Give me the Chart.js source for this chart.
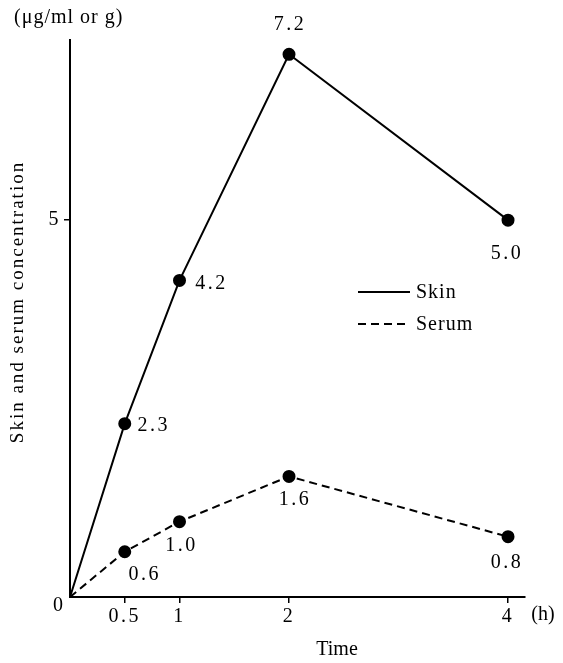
<!DOCTYPE html>
<html>
<head>
<meta charset="utf-8">
<script src="https://cdn.jsdelivr.net/npm/chart.js@4/dist/chart.umd.min.js"></script>
<style>
  html, body { margin: 0; padding: 0; background: #fff; }
</style>
</head>
<body>
<canvas id="concChart" width="563" height="663"></canvas>
<script>
const times = [0, 0.5, 1, 2, 4];
const skinValues = [0, 2.3, 4.2, 7.2, 5.0];
const serumValues = [0, 0.6, 1.0, 1.6, 0.8];
const xTickValues = [0.5, 1, 2, 4];
const yTickValues = [5];
const seriesNames = ['Skin', 'Serum'];
const unitLabel = '(\u03bcg/ml or g)';
const yTitle = 'Skin and serum concentration';
const xTitle = 'Time';
const xUnit = '(h)';

// where each value label sits relative to its point (px)
const skinLabelOffsets = [null, [29, 2], [32, 3], [1, -30], [-1, 34]];
const serumLabelOffsets = [null, [20, 23], [2, 24], [6, 23], [-1, 26]];

const FONT = 'Liberation Serif';
const INK = '#000';

const toPoints = vals => vals.map((v, i) => ({ x: times[i], y: v }));
const radii = times.map(t => (t === 0 ? 0 : 5.5));

const labelsPlugin = {
  id: 'figText',
  beforeDraw(chart) {
    // spaced-out digits like the typeset original (used by the tick labels)
    chart.ctx.letterSpacing = '2.5px';
  },
  afterDatasetsDraw(chart) {
    const ctx = chart.ctx;
    const offsets = [skinLabelOffsets, serumLabelOffsets];
    ctx.save();
    ctx.fillStyle = INK;
    ctx.font = '20px "' + FONT + '"';
    ctx.letterSpacing = '2.5px';
    ctx.textAlign = 'center';
    ctx.textBaseline = 'middle';
    chart.data.datasets.forEach((ds, di) => {
      const meta = chart.getDatasetMeta(di);
      meta.data.forEach((pt, i) => {
        const off = offsets[di][i];
        if (!off) return;
        ctx.fillText(ds.data[i].y.toFixed(1), pt.x + off[0], pt.y + off[1]);
      });
    });
    ctx.restore();
  },
  afterDraw(chart) {
    const ctx = chart.ctx;
    const area = chart.chartArea;
    ctx.save();
    ctx.fillStyle = INK;
    ctx.strokeStyle = INK;
    ctx.font = '20px "' + FONT + '"';
    ctx.textBaseline = 'middle';

    // unit label at top
    ctx.textAlign = 'left';
    ctx.letterSpacing = '1px';
    ctx.fillText(unitLabel, 14, 18);

    // origin 0, (h) and the x title
    ctx.textAlign = 'center';
    ctx.letterSpacing = '0px';
    ctx.fillText('0', area.left - 12, area.bottom + 9);
    ctx.fillText(xUnit, area.right + 18, area.bottom + 18);
    ctx.fillText(xTitle, 337, 650);

    // rotated y title
    ctx.save();
    ctx.font = '19px "' + FONT + '"';
    ctx.translate(18, 302);
    ctx.rotate(-Math.PI / 2);
    ctx.letterSpacing = '2px';
    ctx.fillText(yTitle, 0, 0);
    ctx.restore();

    // legend
    ctx.letterSpacing = '1px';
    chart.data.datasets.forEach((ds, di) => {
      const y = 292 + di * 32;
      ctx.lineWidth = 2;
      ctx.setLineDash(ds.borderDash || []);
      ctx.beginPath();
      ctx.moveTo(358, y);
      ctx.lineTo(410, y);
      ctx.stroke();
      ctx.setLineDash([]);
      ctx.textAlign = 'left';
      ctx.fillText(ds.label, 416, y + 1);
    });
    ctx.restore();
  }
};

const ctx = document.getElementById('concChart').getContext('2d');

new Chart(ctx, {
  type: 'line',
  data: {
    datasets: [
      {
        label: seriesNames[0],
        data: toPoints(skinValues),
        borderColor: INK,
        backgroundColor: INK,
        borderWidth: 2,
        pointRadius: radii,
        fill: false,
        tension: 0
      },
      {
        label: seriesNames[1],
        data: toPoints(serumValues),
        borderColor: INK,
        backgroundColor: INK,
        borderWidth: 2,
        borderDash: [8, 5],
        pointRadius: radii,
        fill: false,
        tension: 0
      }
    ]
  },
  options: {
    responsive: false,
    animation: false,
    devicePixelRatio: 1,
    layout: { padding: { top: 40, right: 38, left: 0, bottom: 0 } },
    plugins: {
      legend: { display: false },
      tooltip: { enabled: false }
    },
    scales: {
      x: {
        type: 'linear',
        min: 0,
        max: 4.155,
        afterBuildTicks: scale => { scale.ticks = xTickValues.map(v => ({ value: v })); },
        afterFit: scale => { scale.height = 66; },
        grid: { drawOnChartArea: false, drawTicks: true, tickLength: 6, color: INK, lineWidth: 1.5 },
        border: { display: true, color: INK, width: 2 },
        ticks: {
          color: INK,
          padding: 2,
          maxRotation: 0,
          font: { family: FONT, size: 20 },
          callback: v => String(v)
        }
      },
      y: {
        type: 'linear',
        min: 0,
        max: 7.39,
        afterBuildTicks: scale => { scale.ticks = yTickValues.map(v => ({ value: v })); },
        afterFit: scale => { scale.width = 70; },
        grid: { drawOnChartArea: false, drawTicks: true, tickLength: 6, color: INK, lineWidth: 1.5 },
        border: { display: true, color: INK, width: 2 },
        ticks: {
          color: INK,
          padding: 3,
          font: { family: FONT, size: 20 },
          callback: v => String(v)
        }
      }
    }
  },
  plugins: [labelsPlugin]
});
</script>
</body>
</html>
